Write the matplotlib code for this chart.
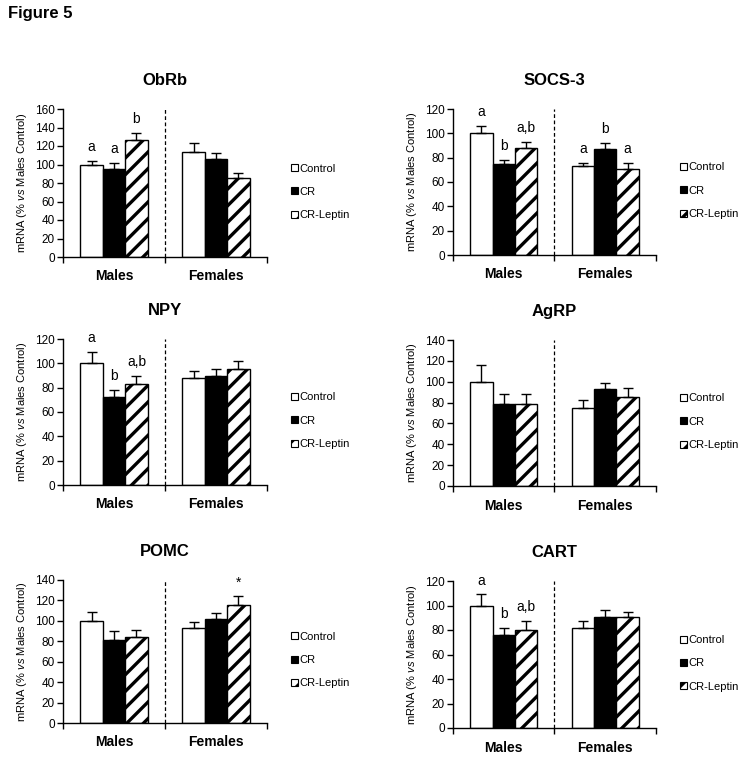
import numpy as np
import matplotlib
matplotlib.use('Agg')
import matplotlib.pyplot as plt
from matplotlib.patches import Patch

plt.rcParams['font.family'] = ['Liberation Sans', 'DejaVu Sans']
plt.rcParams['mathtext.fontset'] = 'custom'
plt.rcParams['mathtext.rm'] = 'Liberation Sans'
plt.rcParams['mathtext.it'] = 'Liberation Sans:italic'
plt.rcParams['hatch.linewidth'] = 2.4

# Data
groups = ['Control', 'CR', 'CR-Leptin']
sexes = ['Males', 'Females']
genes = ['ObRb', 'SOCS-3', 'NPY', 'AgRP', 'POMC', 'CART']
ymax = [160, 120, 120, 140, 140, 120]

obrb_m = [100, 95, 126]
obrb_m_err = [4, 7, 8]
obrb_f = [113, 106, 85]
obrb_f_err = [10, 6, 6]
obrb_m_lab = ['a', 'a', 'b']
obrb_f_lab = ['', '', '']

socs3_m = [100, 75, 88]
socs3_m_err = [6, 3, 5]
socs3_f = [73, 87, 71]
socs3_f_err = [3, 5, 5]
socs3_m_lab = ['a', 'b', 'a,b']
socs3_f_lab = ['a', 'b', 'a']

npy_m = [100, 72, 83]
npy_m_err = [9, 6, 7]
npy_f = [88, 90, 95]
npy_f_err = [6, 5, 7]
npy_m_lab = ['a', 'b', 'a,b']
npy_f_lab = ['', '', '']

agrp_m = [100, 79, 79]
agrp_m_err = [16, 9, 9]
agrp_f = [75, 93, 85]
agrp_f_err = [7, 6, 9]
agrp_m_lab = ['', '', '']
agrp_f_lab = ['', '', '']

pomc_m = [100, 81, 84]
pomc_m_err = [9, 9, 7]
pomc_f = [93, 102, 116]
pomc_f_err = [6, 6, 8]
pomc_m_lab = ['', '', '']
pomc_f_lab = ['', '', '*']

cart_m = [100, 76, 80]
cart_m_err = [9, 6, 7]
cart_f = [82, 91, 91]
cart_f_err = [5, 5, 4]
cart_m_lab = ['a', 'b', 'a,b']
cart_f_lab = ['', '', '']

panels = [
    (obrb_m, obrb_m_err, obrb_f, obrb_f_err, obrb_m_lab, obrb_f_lab),
    (socs3_m, socs3_m_err, socs3_f, socs3_f_err, socs3_m_lab, socs3_f_lab),
    (npy_m, npy_m_err, npy_f, npy_f_err, npy_m_lab, npy_f_lab),
    (agrp_m, agrp_m_err, agrp_f, agrp_f_err, agrp_m_lab, agrp_f_lab),
    (pomc_m, pomc_m_err, pomc_f, pomc_f_err, pomc_m_lab, pomc_f_lab),
    (cart_m, cart_m_err, cart_f, cart_f_err, cart_m_lab, cart_f_lab),
]

# axes boxes in pixels: left, top, right, bottom
W, H = 746, 757
boxes = [
    (63, 109, 267, 257), (453, 109, 656, 255),
    (63, 339, 267, 485), (453, 340, 656, 486),
    (63, 580, 267, 723), (453, 581, 656, 728),
]

fills = ['white', 'black', 'white']
hatches = [None, None, '//']
bar_w = 0.22

fig = plt.figure(figsize=(W / 100, H / 100), dpi=100)
fig.text(8 / W, 1 - 6 / H, 'Figure 5', fontsize=12, fontweight='bold', va='top', ha='left')

for i, (gene, top, data, box) in enumerate(zip(genes, ymax, panels, boxes)):
    l, t, r, b = box
    ax = fig.add_axes([l / W, 1 - b / H, (r - l) / W, (b - t) / H])
    m, m_err, f, f_err, m_lab, f_lab = data
    centers = np.array([0.5, 1.5])
    for k in range(3):
        vals = [m[k], f[k]]
        errs = [m_err[k], f_err[k]]
        x = centers + (k - 1) * bar_w
        ax.bar(x, vals, width=bar_w, color=fills[k], edgecolor='black',
               linewidth=1.0, hatch=hatches[k], zorder=2)
        ax.errorbar(x, vals, yerr=[np.zeros(2), errs], fmt='none', ecolor='black',
                    elinewidth=1.0, capsize=3.5, capthick=1.0, zorder=3)
        for xi, v, e, lab in zip(x, vals, errs, [m_lab[k], f_lab[k]]):
            if lab:
                ax.annotate(lab, (xi, v + e), xytext=(0, 5), textcoords='offset points',
                            ha='center', va='bottom', fontsize=10)

    ax.plot([1, 1], [0, top], color='black', linestyle=(0, (3, 2)), linewidth=0.9, zorder=1)
    ax.set_xlim(0, 2)
    ax.set_ylim(0, top)
    ax.set_yticks(np.arange(0, top + 1, 20))
    ax.tick_params(axis='y', labelsize=8.5, length=4, width=1, direction='out', pad=2)
    ax.set_xticks([0, 1, 2])
    ax.set_xticklabels(['', '', ''])
    ax.set_xticks(centers, minor=True)
    ax.set_xticklabels(sexes, minor=True, fontsize=10, fontweight='bold')
    ax.tick_params(axis='x', which='major', length=4, width=1, direction='out')
    ax.tick_params(axis='x', which='minor', length=0, pad=9)
    for s in ['top', 'right']:
        ax.spines[s].set_visible(False)
    for s in ['left', 'bottom']:
        ax.spines[s].set_linewidth(1.0)
    ax.set_title(gene, fontsize=12, fontweight='bold', pad=17)
    ax.set_ylabel(r'mRNA (% $\it{vs}$ Males Control)', fontsize=8, labelpad=4)

    handles = [Patch(facecolor=fills[k], edgecolor='black', hatch=hatches[k], linewidth=0.8)
               for k in range(3)]
    ax.legend(handles, groups, loc='center left', bbox_to_anchor=(1.12, 0.44),
              frameon=False, fontsize=8, handlelength=0.6, handleheight=0.6,
              handletextpad=0.15, labelspacing=1.2, borderpad=0, borderaxespad=0)

fig.savefig('out.png', dpi=100)
